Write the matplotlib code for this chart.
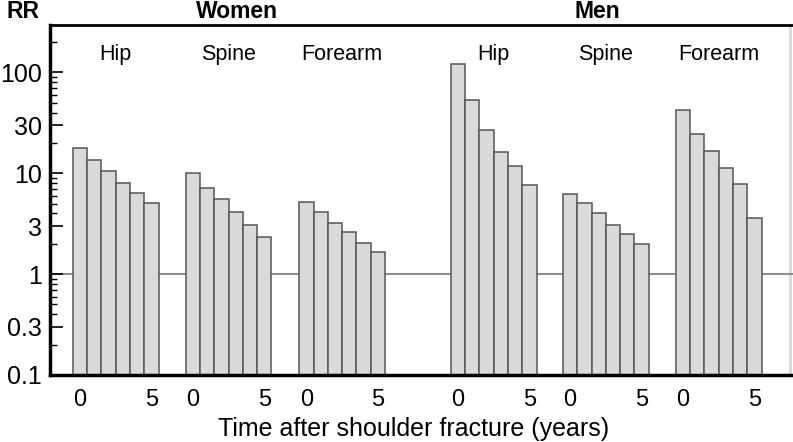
import matplotlib
matplotlib.use("Agg")
import matplotlib.pyplot as plt
from matplotlib.ticker import LogLocator, FixedLocator, NullFormatter

plt.rcParams['font.family'] = ['Liberation Sans', 'DejaVu Sans']

sexes = ["Women", "Men"]
sites = ["Hip", "Spine", "Forearm"]
years = [0, 1, 2, 3, 4, 5]

women_hip = [17.7, 13.5, 10.5, 7.9, 6.3, 5.0]
women_spine = [10.0, 7.1, 5.4, 4.0, 2.95, 2.25]
women_forearm = [5.1, 4.05, 3.1, 2.5, 1.95, 1.55]
men_hip = [121, 53, 26.5, 16.1, 11.7, 7.6]
men_spine = [6.15, 5.0, 3.9, 3.0, 2.4, 1.9]
men_forearm = [42, 24.5, 16.4, 11.2, 7.7, 3.5]

series = [women_hip, women_spine, women_forearm, men_hip, men_spine, men_forearm]
group_labels = sites + sites

yticks = [0.1, 0.3, 1, 3, 10, 30, 100]
ytick_labels = ["0.1", "0.3", "1", "3", "10", "30", "100"]

fig = plt.figure(figsize=(7.93, 4.42), dpi=100)
ax = fig.add_axes([50 / 793, 67 / 442, 743 / 793, 350 / 442])
ax.set_yscale('log')
ax.set_ylim(0.1, 295)
ax.set_xlim(0, 52)

group_starts = [1.6, 9.5, 17.45, 28.05, 35.9, 43.8]

ax.axhline(1, color='#8a8a8a', lw=1.4, zorder=1)

xt, xl = [], []
for start, vals, lab in zip(group_starts, series, group_labels):
    xs = [start + 0.5 + i for i in range(len(vals))]
    ax.bar(xs, vals, width=1.0, bottom=0.1, color='#dadada',
           edgecolor='#555555', linewidth=1.1, zorder=2)
    xt += [xs[0], xs[-1]]
    xl += [str(years[0]), str(years[-1])]
    ax.text(start + 3, 150, lab, ha='center', va='center', fontsize=15.5)

ax.set_xticks(xt)
ax.set_xticklabels(xl, fontsize=17)
ax.tick_params(axis='x', length=0, pad=10)

ax.yaxis.set_major_locator(FixedLocator(yticks))
ax.set_yticklabels(ytick_labels, fontsize=18)
ax.yaxis.set_minor_locator(LogLocator(base=10, subs=[2, 4, 5, 6, 7, 8, 9], numticks=20))
ax.yaxis.set_minor_formatter(NullFormatter())
ax.tick_params(axis='y', which='major', direction='in', length=9, width=1.2, pad=6)
ax.tick_params(axis='y', which='minor', direction='in', length=5, width=1.0)

ax.spines['left'].set_linewidth(2.5)
ax.spines['bottom'].set_linewidth(2.5)
ax.spines['top'].set_linewidth(2.0)
ax.spines['right'].set_visible(False)
ax.axvline(51.78, color='#d8d8d8', lw=2.0, zorder=0)

fig.text(23 / 793, 1 - 18 / 442, "RR", ha='center', va='baseline', fontsize=16.5, fontweight='bold')
fig.text(237 / 793, 1 - 18 / 442, sexes[0], ha='center', va='baseline', fontsize=16.5, fontweight='bold')
fig.text(597 / 793, 1 - 18 / 442, sexes[1], ha='center', va='baseline', fontsize=16.5, fontweight='bold')
fig.text(414 / 793, 1 - 429 / 442, "Time after shoulder fracture (years)", ha='center', va='center', fontsize=18)

fig.savefig("out.png", dpi=100)
